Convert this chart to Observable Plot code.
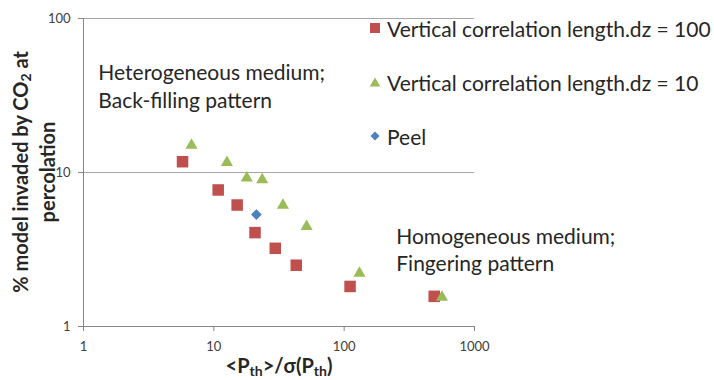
<!DOCTYPE html>
<html>
<head>
<meta charset="utf-8">
<script src="https://cdn.jsdelivr.net/npm/d3@7"></script>
<script src="https://cdn.jsdelivr.net/npm/@observablehq/plot@0.6"></script>
<style>
  body { margin: 0; background: #fff; }
  #wrap { position: relative; width: 714px; height: 380px; font-family: Lato, "Open Sans", sans-serif; color: #262626; overflow: hidden; }
  #wrap svg.plot { position: absolute; left: 0; top: 0; }
  .leg { position: absolute; left: 368px; height: 24px; display: flex; align-items: center; white-space: nowrap; font-size: 21px; }
  .leg svg { width: 14px; height: 14px; margin-right: 5px; }
  .ytitle { position: absolute; width: 320px; height: 54px; left: -126px; top: 145px; transform: rotate(-90deg); text-align: center; font-weight: bold; font-size: 20px; line-height: 27px; white-space: nowrap; }
  .xtitle { position: absolute; width: 300px; left: 129px; top: 354px; text-align: center; font-weight: bold; font-size: 20px; line-height: 22px; white-space: nowrap; }
  sub { font-size: 0.7em; vertical-align: -0.22em; line-height: 0; }
</style>
</head>
<body>
<div id="wrap"></div>
<script>
// ---- data ----
const seriesNames = ["Vertical correlation length.dz = 100", "Vertical correlation length.dz = 10", "Peel"];
const dz100X = [5.75, 10.8, 15.1, 20.7, 29.6, 42.9, 111, 491];
const dz100Y = [11.75, 7.7, 6.15, 4.07, 3.22, 2.5, 1.82, 1.57];
const dz10X = [6.74, 12.6, 17.9, 23.5, 33.9, 51.5, 131, 563];
const dz10Y = [15.4, 11.9, 9.44, 9.21, 6.3, 4.57, 2.28, 1.59];
const peelX = [21.2];
const peelY = [5.33];
const xTicks = [1, 10, 100, 1000];
const yTicks = [1, 10, 100];
const gridValues = [10, 100];
const annotations = [
  {x: 1.3, y: 36.8, text: "Heterogeneous medium;\nBack-filling pattern"},
  {x: 251, y: 3.2, text: "Homogeneous medium;\nFingering pattern"}
];
const colors = ["#C0504D", "#9BBB59", "#4F81BD"];

const rows100 = dz100X.map((x, i) => ({x, y: dz100Y[i]}));
const rows10 = dz10X.map((x, i) => ({x, y: dz10Y[i]}));
const rowsPeel = peelX.map((x, i) => ({x, y: peelY[i]}));

// custom symbols (centered bounding boxes)
const triSym = {draw(ctx, size) {
  const s = Math.sqrt(4 * size / Math.sqrt(3)), h = s * Math.sqrt(3) / 2;
  ctx.moveTo(0, -h / 2); ctx.lineTo(s / 2, h / 2); ctx.lineTo(-s / 2, h / 2); ctx.closePath();
}};
const diaSym = {draw(ctx, size) {
  const r = Math.sqrt(size / 2);
  ctx.moveTo(0, -r); ctx.lineTo(r, 0); ctx.lineTo(0, r); ctx.lineTo(-r, 0); ctx.closePath();
}};
const sqSym = {draw(ctx, size) {
  const w = Math.sqrt(size) / 2;
  ctx.rect(-w, -w, 2 * w, 2 * w);
}};

const chart = Plot.plot({
  width: 714,
  height: 380,
  marginLeft: 83,
  marginRight: 240,
  marginTop: 18,
  marginBottom: 54,
  style: {fontFamily: "Lato, 'Open Sans', sans-serif", fontSize: "13px", background: "transparent"},
  x: {type: "log", domain: [1, 1000]},
  y: {type: "log", domain: [1, 100]},
  marks: [
    Plot.ruleY(gridValues, {stroke: "#a6a6a6", strokeWidth: 1}),
    Plot.ruleX([1], {stroke: "#868686"}),
    Plot.ruleY([1], {stroke: "#868686"}),
    Plot.axisX(xTicks, {tickSize: 5, tickPadding: 10, tickFormat: d => String(d), stroke: "#868686", fill: "#404040", label: null}),
    Plot.axisY(yTicks, {tickSize: 5, tickPadding: 8, tickFormat: d => String(d), stroke: "#868686", fill: "#404040", label: null}),
    Plot.text(annotations, {x: "x", y: "y", text: "text", textAnchor: "start", fontSize: 21, lineHeight: 1.32, fill: "#262626"}),
    Plot.dot(rows100, {x: "x", y: "y", symbol: sqSym, r: 6.5, fill: colors[0], stroke: "none"}),
    Plot.dot(rows10, {x: "x", y: "y", symbol: triSym, r: 4.5, fill: colors[1], stroke: "none"}),
    Plot.dot(rowsPeel, {x: "x", y: "y", symbol: diaSym, r: 4.3, fill: colors[2], stroke: "none"})
  ]
});
chart.classList.add("plot");
const wrap = document.getElementById("wrap");
wrap.appendChild(chart);

// legend
const icons = [
  '<svg viewBox="-7 -7 14 14"><rect x="-5" y="-5" width="10" height="10" fill="' + colors[0] + '"/></svg>',
  '<svg viewBox="-7 -7 14 14"><path d="M0,-4.6L5.3,4.6L-5.3,4.6Z" fill="' + colors[1] + '"/></svg>',
  '<svg viewBox="-7 -7 14 14"><path d="M0,-4.5L4.5,0L0,4.5L-4.5,0Z" fill="' + colors[2] + '"/></svg>'
];
const legTops = [16, 70, 124];
seriesNames.forEach((name, i) => {
  const d = document.createElement("div");
  d.className = "leg";
  d.style.top = legTops[i] + "px";
  d.innerHTML = icons[i] + "<span></span>";
  d.querySelector("span").textContent = name;
  wrap.appendChild(d);
});

// axis titles
const yt = document.createElement("div");
yt.className = "ytitle";
yt.innerHTML = "% model invaded by CO<sub>2</sub> at<br>percolation";
wrap.appendChild(yt);
const xt = document.createElement("div");
xt.className = "xtitle";
xt.innerHTML = "&lt;P<sub>th</sub>&gt;/σ(P<sub>th</sub>)";
wrap.appendChild(xt);
</script>
</body>
</html>
